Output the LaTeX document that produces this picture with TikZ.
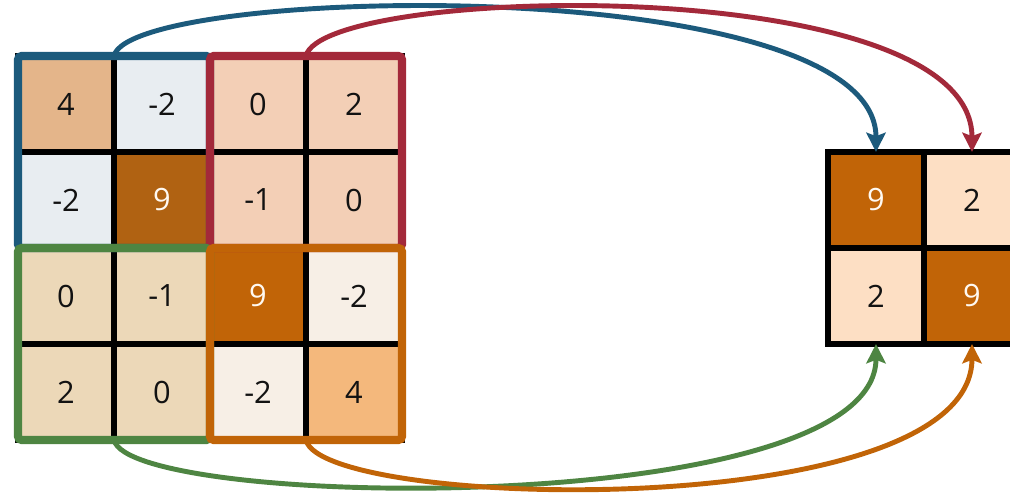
\documentclass[tikz,border=0pt]{standalone}
\usepackage{fontspec}
\setmainfont{Open Sans}
\usetikzlibrary{arrows.meta}

\definecolor{poolblue}{HTML}{1C5A7C}
\definecolor{poolred}{HTML}{A3293A}
\definecolor{poolgreen}{HTML}{4E8542}
\definecolor{poolorange}{HTML}{C16407}
\definecolor{cTan}{HTML}{E4B58A}
\definecolor{cIce}{HTML}{E8EDF1}
\definecolor{cRust}{HTML}{B06212}
\definecolor{cPeach}{HTML}{F3CFB6}
\definecolor{cSand}{HTML}{ECD8B8}
\definecolor{cCream}{HTML}{F7EFE6}
\definecolor{cApricot}{HTML}{F4B87C}
\definecolor{cPale}{HTML}{FDDFC4}

\begin{document}
\begin{tikzpicture}[x=0.02cm, y=-0.02cm,
  cell/.style={draw=black, line width=3.4pt, minimum size=1.92cm, inner sep=0pt,
    outer sep=0pt, font=\fontsize{17.5}{20}\selectfont, text=black!93},
  hot/.style={cell, fill=poolorange, text=white!95!orange},
  frame/.style={line width=4.6pt, rounded corners=2pt},
  pool/.style={line width=2.8pt, -{Stealth[length=11pt, width=11pt, inset=2pt]}}]
\useasboundingbox (0,0) rectangle (1010,494);

% input feature map
\node[cell, fill=cTan]   (a11) at (66,104)  {4};
\node[cell, fill=cIce]   (a12) at (162,104) {-2};
\node[cell, fill=cPeach] (a13) at (258,104) {0};
\node[cell, fill=cPeach] (a14) at (354,104) {2};
\node[cell, fill=cIce]   (a21) at (66,200)  {-2};
\node[cell, fill=cRust, text=white!95!orange] (a22) at (162,200) {9};
\node[cell, fill=cPeach] (a23) at (258,200) {-1};
\node[cell, fill=cPeach] (a24) at (354,200) {0};
\node[cell, fill=cSand]  (a31) at (66,296)  {0};
\node[cell, fill=cSand]  (a32) at (162,296) {-1};
\node[hot]               (a33) at (258,296) {9};
\node[cell, fill=cCream] (a34) at (354,296) {-2};
\node[cell, fill=cSand]  (a41) at (66,392)  {2};
\node[cell, fill=cSand]  (a42) at (162,392) {0};
\node[cell, fill=cCream] (a43) at (258,392) {-2};
\node[cell, fill=cApricot] (a44) at (354,392) {4};

% pooling windows
\draw[frame, poolblue]   (a11.north west) rectangle (a22.south east);
\draw[frame, poolred]    (a13.north west) rectangle (a24.south east);
\draw[frame, poolgreen]  (a31.north west) rectangle (a42.south east);
\draw[frame, poolorange] (a33.north west) rectangle (a44.south east);

% pooled output
\node[hot]            (b11) at (876,200) {9};
\node[cell, fill=cPale] (b12) at (972,200) {2};
\node[cell, fill=cPale] (b21) at (876,296) {2};
\node[hot]            (b22) at (972,296) {9};

% max pooling arrows
\draw[pool, poolblue] (a11.north east) .. controls (130,-15) and (876,-30) .. (b11.north);
\draw[pool, poolred] (a13.north east) .. controls (322,-15) and (972,-30) .. (b12.north);
\draw[pool, poolgreen] (a41.south east) .. controls (130,510) and (876,520) .. (b21.south);
\draw[pool, poolorange] (a43.south east) .. controls (322,510) and (972,525) .. (b22.south);
\end{tikzpicture}
\end{document}
